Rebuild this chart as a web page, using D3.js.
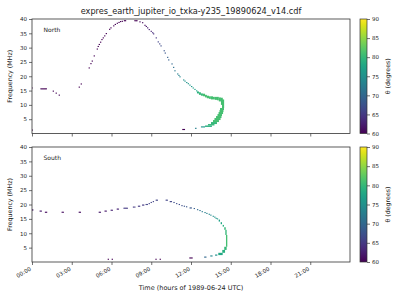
<!DOCTYPE html>
<html>
<head>
<meta charset="utf-8">
<script src="https://cdn.jsdelivr.net/npm/d3@7"></script>
<style>
  body { margin: 0; background: #fff; }
  text { font-family: "DejaVu Sans", sans-serif; fill: #222; }
</style>
</head>
<body>
<svg id="chart" width="400" height="300"></svg>
<script>
// tick values / labels
var xTicks = [0, 3, 6, 9, 12, 15, 18, 21];
var xTickLabels = ["00:00", "03:00", "06:00", "09:00", "12:00", "15:00", "18:00", "21:00"];
var yTicks = [5, 10, 15, 20, 25, 30, 35, 40];
var cbTicks = [60, 65, 70, 75, 80, 85, 90];

// North: isolated detections (hours, MHz, theta deg)
var northTime = [0.02, 0.0, 0.68, 0.76, 0.84, 0.92, 1.0, 1.08, 1.61, 1.83, 2.06, 3.57, 3.72, 4.32, 4.45, 4.55, 4.70, 4.93, 5.0, 5.08,
    5.18, 5.28, 5.38, 5.49, 5.61, 5.86, 5.96, 6.17, 6.29, 6.44, 6.57, 6.69, 6.82, 6.98, 7.06, 7.77, 7.85, 7.92, 8.15, 8.35,
    8.53, 8.63, 8.73, 8.85, 9.0, 9.11, 9.18, 9.38, 9.53, 9.64, 9.74, 9.98, 10.06, 10.24, 10.32, 10.57, 10.69, 10.79, 11.0, 11.09,
    11.17, 11.45, 11.55, 11.68, 11.8, 11.92, 12.05, 12.17, 12.3, 12.43];
var northFreq = [1.2, 15.9, 15.6, 15.6, 15.6, 15.6, 15.6, 15.6, 14.8, 14.1, 13.4, 16.2, 17.3, 22.9, 24.4, 25.3, 27.1, 29.5, 30.4, 31.1,
    31.9, 32.8, 33.4, 34.1, 34.9, 36.4, 36.9, 37.6, 38.1, 38.5, 38.8, 39.1, 39.2, 39.4, 39.4, 39.4, 39.4, 39.4, 39.0, 38.7,
    37.8, 37.4, 36.9, 36.3, 35.7, 35.2, 34.8, 33.4, 32.0, 31.3, 30.6, 28.9, 28.1, 26.6, 25.7, 24.3, 23.1, 21.9, 20.8, 20.3,
    19.8, 18.7, 18.3, 17.8, 17.4, 16.9, 16.4, 15.9, 15.4, 14.9];
var northTheta = [60, 60, 60, 60, 60, 60, 60, 60, 60, 60, 60, 60, 60, 60, 60, 60, 60, 60, 60, 60,
    60, 60, 60, 60, 60, 60, 60, 60, 60, 60, 60, 60, 60, 60, 60, 60, 60, 60, 61, 61,
    61, 62, 62, 63, 63, 64, 64, 65, 66, 66, 67, 68, 68, 69, 69, 70, 71, 72, 73, 73,
    74, 75, 75, 75, 76, 76, 76, 77, 77, 78];
// North: dense part [tStart, tEnd, fLow, fHigh, theta]
var northBand = [
    [12.45, 12.6, 14.0, 14.7, 79], [12.6, 12.75, 13.5, 14.4, 80], [12.75, 12.9, 13.2, 14.0, 80],
    [12.9, 13.06, 13.0, 13.9, 81], [13.06, 13.2, 12.6, 13.5, 81], [13.2, 13.36, 12.3, 13.2, 81],
    [13.36, 13.5, 12.1, 13.0, 81], [13.5, 13.66, 11.9, 13.0, 81], [13.66, 13.8, 11.9, 12.8, 81],
    [13.8, 13.96, 11.75, 12.8, 81], [13.96, 14.1, 11.6, 12.8, 81], [14.1, 14.26, 11.2, 12.6, 81],
    [14.26, 14.4, 10.0, 12.5, 81], [14.34, 14.5, 8.9, 11.9, 81], [14.19, 14.49, 8.2, 8.9, 81],
    [14.15, 14.45, 7.5, 8.2, 81], [14.08, 14.42, 6.8, 7.5, 81], [14.0, 14.34, 6.1, 6.8, 81],
    [13.89, 14.3, 5.4, 6.1, 81], [13.77, 14.23, 4.7, 5.4, 81], [13.66, 14.11, 4.0, 4.7, 81],
    [13.51, 13.96, 3.3, 4.0, 80], [13.28, 13.77, 2.8, 3.3, 80], [13.06, 13.58, 2.3, 2.8, 79],
    [12.75, 13.06, 2.1, 2.5, 76], [12.3, 12.42, 1.7, 2.0, 73], [11.34, 11.55, 1.2, 1.6, 60]
];

// South
var southTime = [0.0, 0.06, 0.62, 0.7, 1.02, 1.1, 2.28, 2.36, 3.57, 3.65, 5.08, 5.16, 5.52, 5.6, 5.98, 6.06, 6.44, 6.52,
    6.95, 7.03, 7.11, 7.19, 5.76, 6.06, 7.66, 7.76, 8.04, 8.12, 8.35, 8.43, 8.62, 8.7, 8.85, 9.0, 9.16, 9.38, 9.46,
    10.13, 10.21, 10.44, 10.52, 10.72, 10.92, 11.12, 11.32, 11.5, 11.67, 11.94, 12.02, 12.25, 12.5, 12.68, 12.85,
    13.06, 13.2, 13.38, 13.5, 13.68, 13.8, 13.9, 14.0, 13.86, 13.94, 13.5, 13.58, 13.04, 13.12, 11.92, 12.0, 12.08,
    9.36, 9.68];
var southFreq = [18.1, 18.1, 17.7, 17.7, 17.3, 17.3, 17.3, 17.3, 17.3, 17.3, 17.3, 17.3, 17.7, 17.7, 18.0, 18.0, 18.4, 18.4,
    18.7, 18.7, 18.7, 18.7, 0.95, 0.95, 19.1, 19.1, 19.4, 19.4, 19.8, 19.8, 20.0, 20.0, 20.3, 20.7, 21.0, 21.5, 21.5,
    21.5, 21.5, 21.0, 21.0, 20.7, 20.3, 20.0, 19.6, 19.4, 19.2, 18.8, 18.8, 18.6, 18.2, 17.9, 17.5,
    17.2, 16.9, 16.6, 16.3, 15.9, 15.6, 15.2, 15.0, 2.4, 2.4, 2.1, 2.1, 1.7, 1.7, 1.4, 1.4, 1.4,
    0.95, 0.95];
var southTheta = [62, 62, 62, 62, 61, 61, 61, 61, 61, 61, 62, 62, 62, 62, 63, 63, 63, 63,
    65, 65, 65, 65, 60, 60, 65, 65, 65, 65, 65, 65, 66, 66, 66, 66, 66, 66, 66,
    66, 66, 66, 66, 67, 67, 67, 67, 68, 68, 68, 68, 69, 70, 71, 72,
    73, 73, 74, 74, 75, 75, 76, 76, 75, 75, 74, 74, 70, 70, 60, 60, 60,
    60, 60];
var southBand = [
    [14.09, 14.19, 14.06, 14.75, 77], [14.24, 14.34, 13.15, 13.85, 78], [14.39, 14.49, 12.3, 12.9, 79],
    [14.51, 14.62, 11.2, 12.1, 80], [14.59, 14.69, 9.4, 11.2, 80], [14.64, 14.74, 5.3, 9.4, 81],
    [14.51, 14.69, 4.2, 5.3, 80], [14.36, 14.57, 3.2, 4.2, 79], [14.06, 14.39, 2.4, 3.2, 78]
];

var svg = d3.select("#chart");

var x = d3.scaleLinear().domain([0, 24]).range([32, 350]);
var color = d3.scaleSequential(d3.interpolateViridis).domain([60, 90]);

// viridis gradient for colorbars
var grad = svg.append("defs").append("linearGradient")
    .attr("id", "viridis")
    .attr("x1", 0).attr("y1", 1).attr("x2", 0).attr("y2", 0);
d3.range(0, 1.0001, 0.05).forEach(function (t) {
    grad.append("stop").attr("offset", t).attr("stop-color", d3.interpolateViridis(t));
});

svg.append("text")
    .attr("x", 191).attr("y", 14)
    .attr("text-anchor", "middle")
    .style("font-size", "8.2px")
    .text("expres_earth_jupiter_io_txka-y235_19890624_v14.cdf");

var panels = [
    {name: "North", top: 19, bottom: 133.5, time: northTime, freq: northFreq, theta: northTheta, band: northBand, labels: false},
    {name: "South", top: 147, bottom: 262, time: southTime, freq: southFreq, theta: southTheta, band: southBand, labels: true}
];

panels.forEach(function (p, k) {
    var y = d3.scaleLinear().domain([0, 40]).range([p.bottom, p.top]);

    svg.append("clipPath").attr("id", "clip" + k)
        .append("rect")
        .attr("x", x(0)).attr("y", p.top)
        .attr("width", x(24) - x(0)).attr("height", p.bottom - p.top);

    var g = svg.append("g").attr("clip-path", "url(#clip" + k + ")");

    g.selectAll("rect.band")
        .data(p.band)
        .enter().append("rect")
        .attr("class", "band")
        .attr("x", function (d) { return x(d[0]); })
        .attr("y", function (d) { return y(d[3]); })
        .attr("width", function (d) { return Math.max(x(d[1]) - x(d[0]), 1.1); })
        .attr("height", function (d) { return Math.max(y(d[2]) - y(d[3]), 1.1); })
        .style("fill", function (d) { return color(d[4]); });

    var pts = p.time.map(function (t, i) {
        return {t: t, f: p.freq[i], th: p.theta[i]};
    });

    g.selectAll("rect.pt")
        .data(pts)
        .enter().append("rect")
        .attr("class", "pt")
        .attr("x", function (d) { return x(d.t) - 0.65; })
        .attr("y", function (d) { return y(d.f) - 0.55; })
        .attr("width", 1.3)
        .attr("height", 1.1)
        .style("fill", function (d) { return color(d.th); });

    // axes
    var yAxis = svg.append("g")
        .attr("transform", "translate(" + x(0) + ",0)")
        .call(d3.axisLeft(y).tickValues(yTicks).tickSize(3).tickPadding(2));
    yAxis.select(".domain").remove();
    yAxis.selectAll("text").style("font-size", "5.5px").style("font-family", "DejaVu Sans");
    yAxis.selectAll("line").attr("stroke", "#333").attr("stroke-width", 0.7);

    var xAxis = svg.append("g")
        .attr("transform", "translate(0," + p.bottom + ")")
        .call(d3.axisBottom(x).tickValues(xTicks).tickSize(3)
            .tickFormat(function (d, i) { return p.labels ? xTickLabels[i] : ""; }));
    xAxis.select(".domain").remove();
    xAxis.selectAll("line").attr("stroke", "#333").attr("stroke-width", 0.7);
    xAxis.selectAll("text")
        .style("font-size", "5.5px").style("font-family", "DejaVu Sans")
        .attr("text-anchor", "end")
        .attr("y", 0).attr("dy", 0)
        .attr("transform", "translate(-1,8) rotate(-30)");

    svg.append("rect")
        .attr("x", x(0)).attr("y", p.top)
        .attr("width", x(24) - x(0)).attr("height", p.bottom - p.top)
        .attr("fill", "none").attr("stroke", "#333").attr("stroke-width", 0.8);

    svg.append("text")
        .attr("x", 43.5).attr("y", p.top + 12.5)
        .style("font-size", "6px")
        .text(p.name);

    svg.append("text")
        .attr("transform", "translate(12," + (p.top + p.bottom) / 2 + ") rotate(-90)")
        .attr("text-anchor", "middle")
        .style("font-size", "6.3px")
        .text("Frequency (MHz)");

    // colorbar
    var cy = d3.scaleLinear().domain([60, 90]).range([p.bottom, p.top]);
    svg.append("rect")
        .attr("x", 360).attr("y", p.top)
        .attr("width", 7).attr("height", p.bottom - p.top)
        .attr("fill", "url(#viridis)")
        .attr("stroke", "#333").attr("stroke-width", 0.7);
    var cAxis = svg.append("g")
        .attr("transform", "translate(367,0)")
        .call(d3.axisRight(cy).tickValues(cbTicks).tickSize(3).tickPadding(2));
    cAxis.select(".domain").remove();
    cAxis.selectAll("text").style("font-size", "5.5px").style("font-family", "DejaVu Sans");
    cAxis.selectAll("line").attr("stroke", "#333").attr("stroke-width", 0.7);

    svg.append("text")
        .attr("transform", "translate(390," + (p.top + p.bottom) / 2 + ") rotate(-90)")
        .attr("text-anchor", "middle")
        .style("font-size", "6.3px")
        .text("\u03b8 (degrees)");
});

svg.append("text")
    .attr("x", 191).attr("y", 290)
    .attr("text-anchor", "middle")
    .style("font-size", "6.5px")
    .text("Time (hours of 1989-06-24 UTC)");
</script>
</body>
</html>
